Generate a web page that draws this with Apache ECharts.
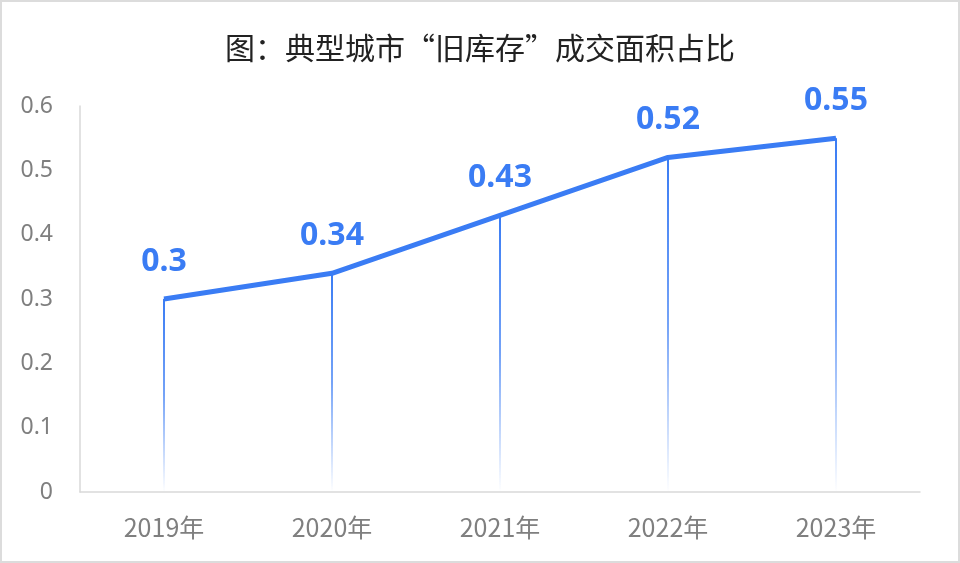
<!DOCTYPE html>
<html>
<head>
<meta charset="utf-8">
<script src="https://cdn.jsdelivr.net/npm/echarts@6/dist/echarts.min.js"></script>
<style>
  html, body { margin: 0; padding: 0; background: #fff; }
  #chart { width: 960px; height: 563px; }
</style>
</head>
<body>
<div id="chart"></div>
<script>
// 数据
const years = ['2019年', '2020年', '2021年', '2022年', '2023年']
const shares = [0.3, 0.34, 0.43, 0.52, 0.55]
const yTicks = { min: 0, max: 0.6, interval: 0.1 }

const blue = '#3a7cf4'
const font = "'Noto Sans', 'Noto Sans CJK SC', sans-serif"

const chart = echarts.init(document.getElementById('chart'))

const option = {
  animation: false,
  title: {
    text: '图：典型城市“旧库存”成交面积占比',
    left: 'center',
    top: 28,
    textStyle: { color: '#222', fontSize: 30, fontWeight: 'normal', fontFamily: "'Noto Sans CJK SC', sans-serif" }
  },
  graphic: [{
    type: 'rect',
    shape: { x: 1, y: 1, width: 958, height: 561 },
    style: { fill: 'none', stroke: '#dcdcdc', lineWidth: 2 },
    silent: true
  }],
  grid: { left: 80, right: 40, top: 106, bottom: 71 },
  xAxis: {
    type: 'category',
    data: years,
    boundaryGap: true,
    axisLine: { lineStyle: { color: '#d9d9d9', width: 1.5 } },
    axisTick: { show: false },
    axisLabel: { color: '#7f7f7f', fontSize: 25, margin: 23, fontFamily: "'Noto Sans CJK SC', sans-serif" }
  },
  yAxis: {
    type: 'value',
    min: yTicks.min,
    max: yTicks.max,
    interval: yTicks.interval,
    axisLine: { show: true, lineStyle: { color: '#d9d9d9', width: 1.5 } },
    axisTick: { show: false },
    splitLine: { show: false },
    axisLabel: { color: '#7f7f7f', fontSize: 23, margin: 27, fontFamily: font }
  },
  series: [
    {
      // 垂直渐变线
      type: 'bar',
      data: shares,
      barWidth: 2,
      itemStyle: {
        color: new echarts.graphic.LinearGradient(0, 0, 0, 1, [
          { offset: 0, color: 'rgba(58,124,244,1)' },
          { offset: 0.5, color: 'rgba(58,124,244,0.7)' },
          { offset: 1, color: 'rgba(58,124,244,0)' }
        ])
      },
      z: 1
    },
    {
      type: 'line',
      data: shares,
      symbol: 'circle',
      symbolSize: 1,
      itemStyle: { color: blue },
      lineStyle: { color: blue, width: 5 },
      label: {
        show: true,
        position: 'top',
        distance: 21,
        color: blue,
        fontSize: 32,
        fontWeight: 'bold',
        fontFamily: font
      },
      z: 2
    }
  ]
}

chart.setOption(option)
</script>
</body>
</html>
